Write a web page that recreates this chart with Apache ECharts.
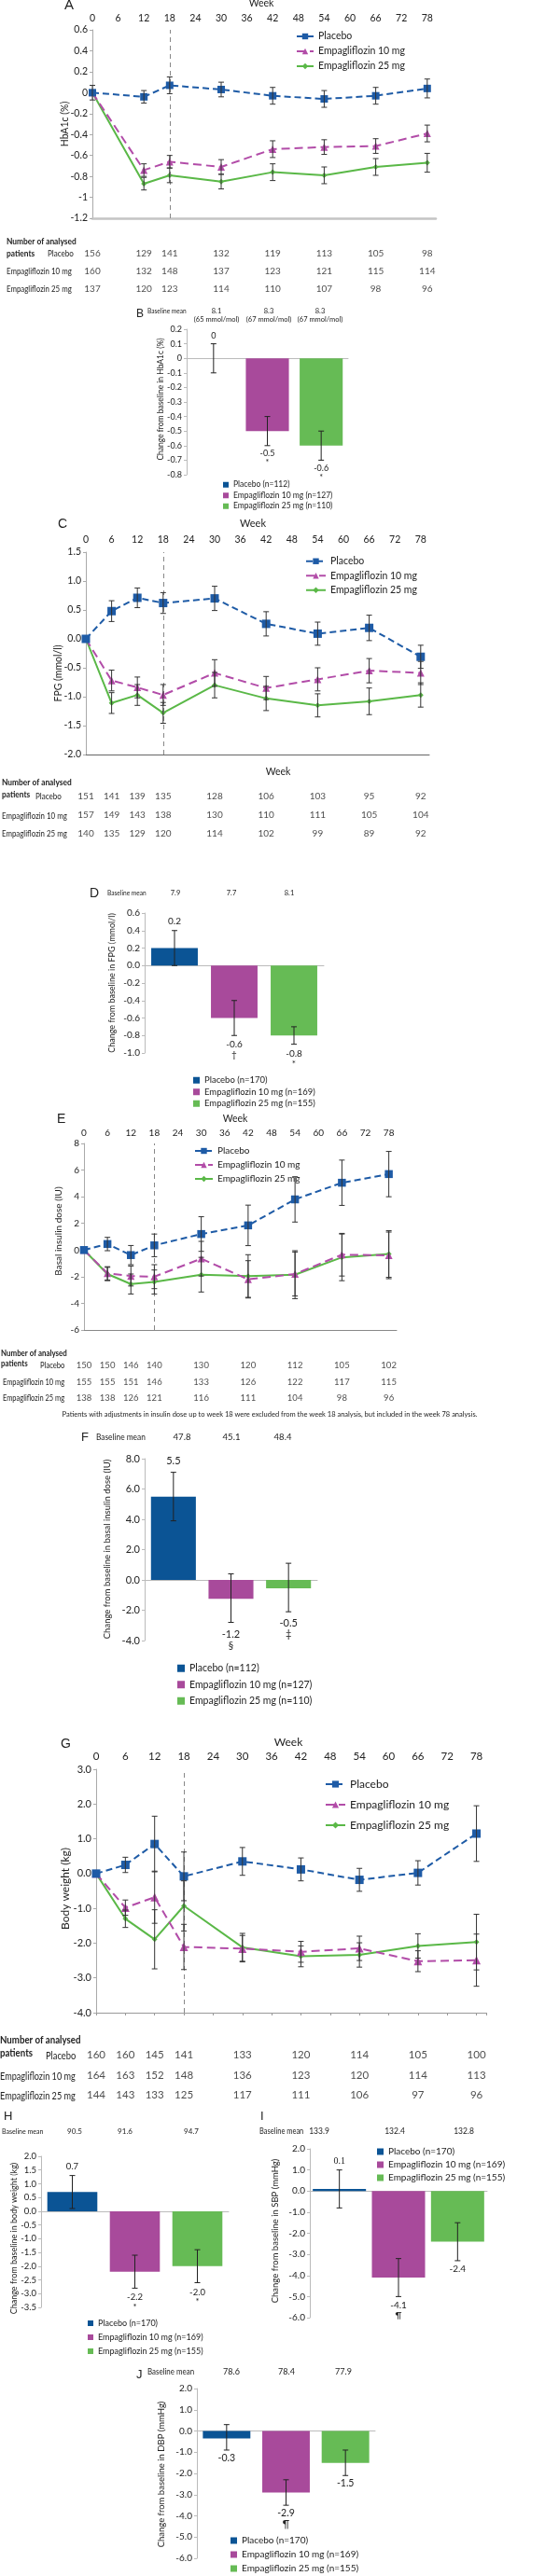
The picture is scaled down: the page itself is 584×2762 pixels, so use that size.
<!DOCTYPE html>
<html><head><meta charset="utf-8">
<script src="https://cdn.jsdelivr.net/npm/echarts@6/dist/echarts.min.js"></script>
<style>html,body{margin:0;padding:0;background:#fff}#c{width:584px;height:2762px}</style>
</head><body><div id="c"></div>
<script>
// ---------------- DATA ----------------
const groupNames = ['Placebo', 'Empagliflozin 10 mg', 'Empagliflozin 25 mg'];
const weeksA = [0, 12, 18, 30, 42, 54, 66, 78];
const weeksAll = [0, 6, 12, 18, 30, 42, 54, 66, 78];

// A: HbA1c over time
const hba1cPlacebo = [0, -0.04, 0.07, 0.03, -0.03, -0.06, -0.03, 0.04];
const hba1cPlaceboSE = [0.07, 0.06, 0.08, 0.07, 0.08, 0.08, 0.08, 0.09];
const hba1cEmpa10 = [0, -0.74, -0.66, -0.71, -0.54, -0.52, -0.51, -0.39];
const hba1cEmpa10SE = [0, 0.06, 0.06, 0.07, 0.08, 0.07, 0.07, 0.08];
const hba1cEmpa25 = [0, -0.87, -0.79, -0.85, -0.76, -0.79, -0.71, -0.67];
const hba1cEmpa25SE = [0, 0.06, 0.07, 0.07, 0.08, 0.08, 0.08, 0.09];
const hba1cNPlacebo = [156, 129, 141, 132, 119, 113, 105, 98];
const hba1cNEmpa10 = [160, 132, 148, 137, 123, 121, 115, 114];
const hba1cNEmpa25 = [137, 120, 123, 114, 110, 107, 98, 96];

// B: HbA1c change at week 78
const hba1cBarLegend = ['Placebo (n=112)', 'Empagliflozin 10 mg (n=127)', 'Empagliflozin 25 mg (n=110)'];
const hba1cBar = [0, -0.5, -0.6];
const hba1cBarLo = [-0.1, -0.6, -0.7];
const hba1cBarHi = [0.1, -0.4, -0.5];
const hba1cBarLabel = ['0', '-0.5', '-0.6'];
const hba1cBarSig = ['', '*', '*'];
const hba1cBaseline = ['8.1', '8.3', '8.3'];
const hba1cBaselineSub = ['(65 mmol/mol)', '(67 mmol/mol)', '(67 mmol/mol)'];

// C: FPG over time
const fpgPlacebo = [0, 0.48, 0.71, 0.62, 0.70, 0.26, 0.09, 0.19, -0.31];
const fpgPlaceboSE = [0, 0.18, 0.17, 0.18, 0.21, 0.21, 0.2, 0.22, 0.2];
const fpgEmpa10 = [0, -0.72, -0.84, -0.97, -0.59, -0.85, -0.70, -0.55, -0.59];
const fpgEmpa10SE = [0, 0.18, 0.18, 0.18, 0.23, 0.2, 0.2, 0.21, 0.2];
const fpgEmpa25 = [0, -1.11, -0.97, -1.28, -0.80, -1.03, -1.15, -1.08, -0.97];
const fpgEmpa25SE = [0, 0.18, 0.18, 0.18, 0.22, 0.21, 0.2, 0.23, 0.21];
const fpgNPlacebo = [151, 141, 139, 135, 128, 106, 103, 95, 92];
const fpgNEmpa10 = [157, 149, 143, 138, 130, 110, 111, 105, 104];
const fpgNEmpa25 = [140, 135, 129, 120, 114, 102, 99, 89, 92];

// D: FPG change at week 78
const fpgBarLegend = ['Placebo (n=170)', 'Empagliflozin 10 mg (n=169)', 'Empagliflozin 25 mg (n=155)'];
const fpgBar = [0.2, -0.6, -0.8];
const fpgBarLo = [0, -0.8, -0.9];
const fpgBarHi = [0.4, -0.4, -0.7];
const fpgBarLabel = ['0.2', '-0.6', '-0.8'];
const fpgBarSig = ['', '†', '*'];
const fpgBaseline = ['7.9', '7.7', '8.1'];

// E: basal insulin dose over time
const insPlacebo = [0, 0.45, -0.38, 0.35, 1.2, 1.85, 3.8, 5.05, 5.7];
const insPlaceboSE = [0, 0.5, 0.72, 0.85, 1.3, 1.52, 1.7, 1.7, 1.7];
const insEmpa10 = [0, -1.75, -1.95, -2.0, -0.65, -2.2, -1.8, -0.35, -0.4];
const insEmpa10SE = [0, 0.5, 0.75, 0.9, 1.3, 1.4, 1.65, 1.6, 1.75];
const insEmpa25 = [0, -1.8, -2.55, -2.4, -1.85, -1.95, -1.85, -0.55, -0.3];
const insEmpa25SE = [0, 0.5, 0.75, 0.9, 1.3, 1.6, 1.8, 1.75, 1.75];
const insNPlacebo = [150, 150, 146, 140, 130, 120, 112, 105, 102];
const insNEmpa10 = [155, 155, 151, 146, 133, 126, 122, 117, 115];
const insNEmpa25 = [138, 138, 126, 121, 116, 111, 104, 98, 96];
const insNote = 'Patients with adjustments in insulin dose up to week 18 were excluded from the week 18 analysis, but included in the week 78 analysis.';

// F: insulin dose change at week 78
const insBarLegend = ['Placebo (n=112)', 'Empagliflozin 10 mg (n=127)', 'Empagliflozin 25 mg (n=110)'];
const insBar = [5.5, -1.25, -0.55];
const insBarLo = [3.9, -2.8, -2.1];
const insBarHi = [7.1, 0.4, 1.1];
const insBarLabel = ['5.5', '-1.2', '-0.5'];
const insBarSig = ['', '§', '‡'];
const insBaseline = ['47.8', '45.1', '48.4'];

// G: body weight over time
const wtPlacebo = [0, 0.25, 0.85, -0.08, 0.35, 0.12, -0.18, 0.02, 1.15];
const wtPlaceboSE = [0, 0.22, 0.8, 0.7, 0.4, 0.33, 0.33, 0.35, 0.8];
const wtEmpa10 = [0, -0.98, -0.68, -2.11, -2.16, -2.25, -2.15, -2.52, -2.49];
const wtEmpa10SE = [0, 0.22, 0.75, 0.65, 0.38, 0.3, 0.35, 0.3, 0.75];
const wtEmpa25 = [0, -1.3, -1.89, -0.93, -2.12, -2.38, -2.34, -2.08, -1.97];
const wtEmpa25SE = [0, 0.25, 0.85, 0.72, 0.4, 0.3, 0.35, 0.35, 0.8];
const wtNPlacebo = [160, 160, 145, 141, 133, 120, 114, 105, 100];
const wtNEmpa10 = [164, 163, 152, 148, 136, 123, 120, 114, 113];
const wtNEmpa25 = [144, 143, 133, 125, 117, 111, 106, 97, 96];

// H: body weight change
const wtBarLegend = ['Placebo (n=170)', 'Empagliflozin 10 mg (n=169)', 'Empagliflozin 25 mg (n=155)'];
const wtBar = [0.7, -2.2, -2.0];
const wtBarLo = [0.1, -2.8, -2.6];
const wtBarHi = [1.3, -1.6, -1.4];
const wtBarLabel = ['0.7', '-2.2', '-2.0'];
const wtBarSig = ['', '*', '*'];
const wtBaseline = ['90.5', '91.6', '94.7'];

// I: SBP change
const sbpBar = [0.1, -4.1, -2.4];
const sbpBarLo = [-0.8, -5.0, -3.3];
const sbpBarHi = [1.0, -3.2, -1.5];
const sbpBarLabel = ['0.1', '-4.1', '-2.4'];
const sbpBarSig = ['', '¶', ''];
const sbpBaseline = ['133.9', '132.4', '132.8'];

// J: DBP change
const dbpBar = [-0.35, -2.9, -1.5];
const dbpBarLo = [-0.9, -3.5, -2.1];
const dbpBarHi = [0.3, -2.3, -0.9];
const dbpBarLabel = ['-0.3', '-2.9', '-1.5'];
const dbpBarSig = ['', '¶', ''];
const dbpBaseline = ['78.6', '78.4', '77.9'];

// ---------------- BUILD ----------------
const FONT = 'Lato, "Liberation Sans", sans-serif';
const SERIF = '"Liberation Serif", "DejaVu Serif", serif';
const LETTER_FONT = '"Liberation Sans", Arial, sans-serif';
const TXT = '#222';
const LINE_COLORS = ['#1e5ba6', '#b24ca8', '#5ab847'];
const BAR_COLORS = ['#0b5495', '#a84a9b', '#66bb55'];
const grids = [], xAxes = [], yAxes = [], series = [], legends = [], graphics = [];

function fmtG(v) { return String(Math.round(v * 10) / 10); }
function fmt1(v) { return (Math.round(v * 10) / 10).toFixed(1); }
function fmt0(v) { return String(Math.round(v)); }

function errLineRender(params, api) {
  const x = api.value(0), lo = api.value(1), hi = api.value(2);
  if (hi - lo <= 0) return null;
  const a = api.coord([x, hi]), b = api.coord([x, lo]);
  const st = { stroke: '#333', lineWidth: 1 };
  const w = 3;
  return { type: 'group', children: [
    { type: 'line', shape: { x1: a[0], y1: a[1], x2: b[0], y2: b[1] }, style: st },
    { type: 'line', shape: { x1: a[0] - w, y1: a[1], x2: a[0] + w, y2: a[1] }, style: st },
    { type: 'line', shape: { x1: b[0] - w, y1: b[1], x2: b[0] + w, y2: b[1] }, style: st }
  ] };
}

function lineChart(c) {
  const gi = grids.length;
  grids.push({ left: c.left, top: c.top, width: c.width, height: c.height });
  const xi = xAxes.length;
  xAxes.push({ gridIndex: gi, type: 'value', position: 'top', min: 0, max: 80, interval: 6,
    axisLine: { show: false }, axisTick: { show: false }, splitLine: { show: false },
    axisLabel: { margin: c.xMargin, fontSize: c.xfs, color: TXT, fontFamily: FONT,
      formatter: v => (v <= 78 ? String(v) : '') } });
  xAxes.push({ gridIndex: gi, type: 'value', position: 'bottom', min: 0, max: 80, interval: 6,
    axisLine: { show: true, onZero: true, lineStyle: c.zeroLine },
    axisTick: { show: !!c.zeroTicks, length: 3, lineStyle: { color: '#999' } },
    axisLabel: { show: false }, splitLine: { show: false } });
  const yi = yAxes.length;
  yAxes.push({ gridIndex: gi, type: 'value', min: c.ymin, max: c.ymax, interval: c.yint,
    axisLine: { show: true, lineStyle: { color: '#aaa' } },
    axisTick: { show: true, length: 3, lineStyle: { color: '#aaa' } },
    splitLine: { show: false },
    axisLabel: { fontSize: c.yfs, color: TXT, fontFamily: FONT, margin: 5, formatter: c.yfmt } });
  const syms = ['rect', 'triangle', 'diamond'];
  const dashes = [[7, 4], [9, 5], 'solid'];
  c.vals.forEach((vals, k) => {
    const s = {
      type: 'line', name: groupNames[k], xAxisIndex: xi, yAxisIndex: yi,
      data: c.weeks.map((w, i) => [w, vals[i]]),
      symbol: syms[k], symbolSize: c.sym[k], showAllSymbol: true,
      lineStyle: { color: LINE_COLORS[k], width: 2, type: dashes[k] },
      itemStyle: { color: LINE_COLORS[k] }, z: 4 - k + 2, silent: true
    };
    if (k === 0) {
      s.markLine = { silent: true, symbol: ['none', 'none'], label: { show: false },
        lineStyle: { type: [5, 4], color: '#888', width: 1 }, data: [{ xAxis: 18 }] };
    }
    series.push(s);
    series.push({ type: 'custom', xAxisIndex: xi, yAxisIndex: yi, renderItem: errLineRender,
      encode: { x: 0, y: [1, 2] }, silent: true, z: 7,
      data: c.weeks.map((w, i) => [w, vals[i] - c.se[k][i], vals[i] + c.se[k][i]]) });
  });
  legends.push({ left: c.legend.left, top: c.legend.top, orient: 'vertical', padding: 0, itemGap: 0,
    itemWidth: c.legend.iw, itemHeight: c.legend.ih || 8, selectedMode: false,
    data: groupNames.slice(),
    textStyle: { fontSize: c.legend.fs, fontFamily: FONT, color: TXT, lineHeight: c.legend.lh } });
}

function table(c) {
  const gi = grids.length;
  grids.push({ left: c.left, top: c.top, width: c.width, height: c.height });
  const xi = xAxes.length;
  xAxes.push({ gridIndex: gi, type: 'value', min: 0, max: 80, show: false });
  const yi = yAxes.length;
  yAxes.push({ gridIndex: gi, type: 'category', inverse: true, data: groupNames.slice(), show: false });
  const data = [];
  c.rows.forEach((row, r) => row.forEach((n, k) => data.push([c.weeks[k], r, n])));
  series.push({ type: 'scatter', xAxisIndex: xi, yAxisIndex: yi, symbolSize: 0, silent: true,
    itemStyle: { color: 'transparent' },
    label: { show: true, position: 'inside', formatter: p => String(p.value[2]),
      fontSize: c.fs, fontFamily: FONT, color: TXT },
    data });
}

function barChart(c) {
  const gi = grids.length;
  grids.push({ left: c.left, top: c.top, width: c.width, height: c.height });
  const xi = xAxes.length;
  xAxes.push({ gridIndex: gi, type: 'category', data: groupNames.slice(),
    axisLine: { show: true, onZero: true, lineStyle: { color: '#bbb' } },
    axisTick: { show: false }, axisLabel: { show: false } });
  const yi = yAxes.length;
  yAxes.push({ gridIndex: gi, type: 'value', min: c.ymin, max: c.ymax, interval: c.yint,
    axisLine: { show: true, lineStyle: { color: '#bbb' } },
    axisTick: { show: true, length: 3, lineStyle: { color: '#bbb' } },
    splitLine: { show: false },
    axisLabel: { fontSize: c.yfs, color: TXT, fontFamily: FONT, margin: 5, formatter: c.yfmt } });
  c.vals.forEach((v, k) => {
    series.push({ type: 'bar', name: c.names[k], xAxisIndex: xi, yAxisIndex: yi,
      barWidth: c.bw, barGap: '-100%', silent: true,
      itemStyle: { color: BAR_COLORS[k] },
      data: c.vals.map((vv, i) => (i === k ? vv : '-')) });
  });
  const fs = c.lfs;
  series.push({ type: 'custom', xAxisIndex: xi, yAxisIndex: yi, silent: true, z: 6,
    encode: { x: 0, y: [1, 2] },
    data: c.vals.map((v, i) => [i, c.lo[i], c.hi[i]]),
    renderItem: function (params, api) {
      const i = params.dataIndex;
      const a = api.coord([i, api.value(2)]), b = api.coord([i, api.value(1)]);
      const x = a[0];
      const st = { stroke: '#222', lineWidth: 1 };
      const w = 3;
      const ch = [
        { type: 'line', shape: { x1: x, y1: a[1], x2: x, y2: b[1] }, style: st },
        { type: 'line', shape: { x1: x - w, y1: a[1], x2: x + w, y2: a[1] }, style: st },
        { type: 'line', shape: { x1: x - w, y1: b[1], x2: x + w, y2: b[1] }, style: st }
      ];
      const ff = (c.labelFonts && c.labelFonts[i]) || FONT;
      const ts = { fontSize: fs, fontFamily: ff, fill: TXT, align: 'center' };
      if (c.vals[i] >= 0) {
        ch.push({ type: 'text', style: Object.assign({ text: c.labels[i], x: x, y: a[1] - c.gap, verticalAlign: 'bottom' }, ts) });
      } else {
        ch.push({ type: 'text', style: Object.assign({ text: c.labels[i], x: x, y: b[1] + c.gap, verticalAlign: 'top' }, ts) });
        if (c.sig[i]) ch.push({ type: 'text', style: Object.assign({ text: c.sig[i], x: x, y: b[1] + c.gap + fs + 1, verticalAlign: 'top' }, ts) });
      }
      return { type: 'group', children: ch };
    } });
  legends.push({ left: c.legend.left, top: c.legend.top, orient: 'vertical', padding: 0, itemGap: 0,
    itemWidth: c.legend.is, itemHeight: c.legend.is, icon: 'rect', selectedMode: false,
    data: c.names.slice(),
    textStyle: { fontSize: c.legend.fs, fontFamily: FONT, color: TXT, lineHeight: c.legend.lh } });
}

function txt(text, x, y, fs, o) {
  o = o || {};
  return { type: 'text', x: x, y: y, rotation: o.rot || 0, scaleX: o.sx || 1, silent: true, z: 10,
    style: { text: text, fontSize: fs, fontFamily: o.ff || FONT, fontWeight: o.bold ? 'bold' : 'normal',
      fill: o.color || TXT, align: o.align || 'left', verticalAlign: 'middle' } };
}
function ytitle(text, x, y, fs) { return txt(text, x, y, fs, { rot: Math.PI / 2, align: 'center' }); }
function tableLabels(t) {
  graphics.push(txt('Number of analysed', t.x0, t.yHead, t.fs, { bold: true, sx: 0.88 }));
  graphics.push(txt('patients', t.x0, t.yPat, t.fs, { bold: true, sx: 0.88 }));
  graphics.push(txt('Placebo', t.xPl, t.rows[0], t.fs, { sx: 0.85 }));
  graphics.push(txt('Empagliflozin 10 mg', t.x1, t.rows[1], t.fs, { sx: 0.83 }));
  graphics.push(txt('Empagliflozin 25 mg', t.x1, t.rows[2], t.fs, { sx: 0.83 }));
}
function baseline(x, y, fs, vals, xs) {
  graphics.push(txt('Baseline mean', x, y, fs, { sx: 0.88 }));
  vals.forEach((v, i) => graphics.push(txt(v, xs[i], y, fs, { align: 'center' })));
}

// ---- Panel A ----
lineChart({ left: 99, top: 32, width: 368, height: 202, ymin: -1.2, ymax: 0.6, yint: 0.2, yfmt: fmtG,
  yfs: 10.5, xfs: 10.5, xMargin: 7, zeroLine: { color: '#c4c4c4', width: 2.5 }, weeks: weeksA,
  vals: [hba1cPlacebo, hba1cEmpa10, hba1cEmpa25], se: [hba1cPlaceboSE, hba1cEmpa10SE, hba1cEmpa25SE],
  sym: [8, 8, 6], legend: { left: 317, top: 31, lh: 16, fs: 10.5, iw: 18 } });
table({ left: 99, top: 262.5, width: 368, height: 57, weeks: weeksA, fs: 10,
  rows: [hba1cNPlacebo, hba1cNEmpa10, hba1cNEmpa25] });
graphics.push(txt('A', 69, 6, 15, { ff: LETTER_FONT }));
graphics.push(txt('Week', 280, 4, 10.5, { align: 'center' }));
graphics.push(ytitle('HbA1c (%)', 70, 133, 10.5));
tableLabels({ x0: 7, yHead: 259, yPat: 272, xPl: 51, x1: 7, rows: [272, 291, 310], fs: 9.5 });

// ---- Panel B ----
barChart({ left: 200, top: 353, width: 173, height: 156, ymin: -0.8, ymax: 0.2, yint: 0.1, yfmt: fmtG, yfs: 9,
  bw: '80%', vals: hba1cBar, lo: hba1cBarLo, hi: hba1cBarHi, labels: hba1cBarLabel, sig: hba1cBarSig,
  lfs: 9, gap: 4, names: hba1cBarLegend, legend: { left: 239, top: 514, lh: 11.5, fs: 8.5, is: 6 } });
graphics.push(txt('B', 146, 337, 12, { ff: LETTER_FONT }));
baseline(158, 334, 7.5, hba1cBaseline, [232, 288, 343]);
hba1cBaselineSub.forEach((s, i) => graphics.push(txt(s, [232, 288, 343][i], 343, 7.5, { align: 'center' })));
graphics.push(ytitle('Change from baseline in HbA1c (%)', 172, 428, 8.5));

// ---- Panel C ----
lineChart({ left: 92, top: 592, width: 368, height: 217, ymin: -2, ymax: 1.5, yint: 0.5, yfmt: fmt1,
  yfs: 10.5, xfs: 10.5, xMargin: 7.5, zeroLine: { color: '#666', width: 1 }, weeks: weeksAll,
  vals: [fpgPlacebo, fpgEmpa10, fpgEmpa25], se: [fpgPlaceboSE, fpgEmpa10SE, fpgEmpa25SE],
  sym: [9, 8, 6], legend: { left: 327, top: 594, lh: 15.5, fs: 10.5, iw: 21 } });
table({ left: 92, top: 844, width: 368, height: 60, weeks: weeksAll, fs: 10,
  rows: [fpgNPlacebo, fpgNEmpa10, fpgNEmpa25] });
graphics.push(txt('C', 62, 562, 14, { ff: LETTER_FONT }));
graphics.push(txt('Week', 271, 561, 11, { align: 'center' }));
graphics.push(txt('Week', 298, 828, 10.5, { align: 'center' }));
graphics.push(ytitle('FPG (mmol/l)', 63, 722, 10.5));
tableLabels({ x0: 2, yHead: 839, yPat: 852, xPl: 38, x1: 2, rows: [854, 875, 894], fs: 9.5 });

// ---- Panel D ----
barChart({ left: 155, top: 979, width: 192, height: 150, ymin: -1.0, ymax: 0.6, yint: 0.2, yfmt: fmt1, yfs: 10,
  bw: '78%', vals: fpgBar, lo: fpgBarLo, hi: fpgBarHi, labels: fpgBarLabel, sig: fpgBarSig,
  lfs: 10, gap: 5, names: fpgBarLegend, legend: { left: 207, top: 1152, lh: 12.5, fs: 9.5, is: 7 } });
graphics.push(txt('D', 96, 958, 14, { ff: LETTER_FONT }));
baseline(115, 958, 7.5, fpgBaseline, [188, 248, 310]);
graphics.push(ytitle('Change from baseline in FPG (mmol/l)', 120, 1054, 9));

// ---- Panel E ----
lineChart({ left: 90, top: 1226, width: 335, height: 200, ymin: -6, ymax: 8, yint: 2, yfmt: fmt0,
  yfs: 10, xfs: 10, xMargin: 6, zeroLine: { color: '#888', width: 1 }, weeks: weeksAll,
  vals: [insPlacebo, insEmpa10, insEmpa25], se: [insPlaceboSE, insEmpa10SE, insEmpa25SE],
  sym: [8.5, 8, 6], legend: { left: 208, top: 1226.5, lh: 15, fs: 10, iw: 19 } });
table({ left: 90, top: 1455.5, width: 335, height: 52.5, weeks: weeksAll, fs: 9.5,
  rows: [insNPlacebo, insNEmpa10, insNEmpa25] });
graphics.push(txt('E', 61, 1200, 14, { ff: LETTER_FONT }));
graphics.push(txt('Week', 252, 1200, 10.5, { align: 'center' }));
graphics.push(ytitle('Basal insulin dose (IU)', 63, 1320, 10));
tableLabels({ x0: 1, yHead: 1451, yPat: 1462, xPl: 43, x1: 3, rows: [1464, 1482, 1499], fs: 9 });
graphics.push(txt(insNote, 289, 1517, 7.5, { align: 'center' }));

// ---- Panel F ----
barChart({ left: 155, top: 1564, width: 185, height: 195, ymin: -4, ymax: 8, yint: 2, yfmt: fmt1, yfs: 11,
  bw: '78%', vals: insBar, lo: insBarLo, hi: insBarHi, labels: insBarLabel, sig: insBarSig,
  lfs: 11, gap: 7, names: insBarLegend, legend: { left: 190, top: 1780, lh: 17.5, fs: 10.5, is: 8 } });
graphics.push(txt('F', 87, 1541, 13, { ff: LETTER_FONT }));
baseline(103, 1541, 9.5, insBaseline, [195, 248, 303]);
graphics.push(ytitle('Change from baseline in basal insulin dose (IU)', 115, 1661, 9.5));

// ---- Panel G ----
lineChart({ left: 103, top: 1897, width: 418, height: 261, ymin: -4, ymax: 3, yint: 1, yfmt: fmt1,
  yfs: 11, xfs: 11.5, xMargin: 8, zeroLine: { color: '#999', width: 1 }, zeroTicks: true, weeks: weeksAll,
  vals: [wtPlacebo, wtEmpa10, wtEmpa25], se: [wtPlaceboSE, wtEmpa10SE, wtEmpa25SE],
  sym: [9, 9, 6], legend: { left: 348, top: 1902, lh: 22, fs: 12, iw: 21, ih: 9 } });
table({ left: 103, top: 2193, width: 418, height: 64.5, weeks: weeksAll, fs: 11.5,
  rows: [wtNPlacebo, wtNEmpa10, wtNEmpa25] });
graphics.push(txt('G', 65, 1870, 14, { ff: LETTER_FONT }));
graphics.push(txt('Week', 309, 1868, 12, { align: 'center' }));
graphics.push(ytitle('Body weight (kg)', 70, 2025, 12));
tableLabels({ x0: 0, yHead: 2187, yPat: 2201, xPl: 49, x1: 0, rows: [2204, 2226, 2247], fs: 11 });

// ---- Panel H ----
barChart({ left: 44, top: 2312, width: 201, height: 162, ymin: -3.5, ymax: 2.0, yint: 0.5, yfmt: fmt1, yfs: 9.5,
  bw: '80%', vals: wtBar, lo: wtBarLo, hi: wtBarHi, labels: wtBarLabel, sig: wtBarSig,
  lfs: 9.5, gap: 5, names: wtBarLegend, legend: { left: 94, top: 2483.5, lh: 15, fs: 9, is: 6 } });
graphics.push(txt('H', 4, 2269, 13, { ff: LETTER_FONT }));
baseline(2, 2285, 8, wtBaseline, [80, 134, 205]);
graphics.push(ytitle('Change from baseline in body weight (kg)', 15, 2400, 9));

// ---- Panel I ----
barChart({ left: 332, top: 2304, width: 190, height: 181, ymin: -6, ymax: 2, yint: 1, yfmt: fmt1, yfs: 10,
  bw: '90%', vals: sbpBar, lo: sbpBarLo, hi: sbpBarHi, labels: sbpBarLabel, sig: sbpBarSig,
  labelFonts: [SERIF, null, null],
  lfs: 10, gap: 4, names: wtBarLegend, legend: { left: 404, top: 2300, lh: 14, fs: 10, is: 7 } });
graphics.push(txt('I', 279, 2269, 13, { ff: LETTER_FONT }));
baseline(278, 2285, 8.5, sbpBaseline, [342, 423, 497]);
graphics.push(ytitle('Change from baseline in SBP (mmHg)', 295, 2392, 9.5));

// ---- Panel J ----
barChart({ left: 211, top: 2561, width: 191, height: 182, ymin: -6, ymax: 2, yint: 1, yfmt: fmt1, yfs: 10,
  bw: '80%', vals: dbpBar, lo: dbpBarLo, hi: dbpBarHi, labels: dbpBarLabel, sig: dbpBarSig,
  lfs: 10.5, gap: 3, names: wtBarLegend, legend: { left: 247, top: 2716.5, lh: 15, fs: 10, is: 7 } });
graphics.push(txt('J', 146, 2546, 13, { ff: LETTER_FONT }));
baseline(158, 2543, 9, dbpBaseline, [248, 307, 368]);
graphics.push(ytitle('Change from baseline in DBP (mmHg)', 173, 2653, 9.5));

const chart = echarts.init(document.getElementById('c'), null, { renderer: 'canvas' });
chart.setOption({
  animation: false,
  backgroundColor: '#fff',
  textStyle: { fontFamily: FONT },
  grid: grids, xAxis: xAxes, yAxis: yAxes, series: series, legend: legends,
  graphic: { elements: graphics }
});
</script></body></html>
